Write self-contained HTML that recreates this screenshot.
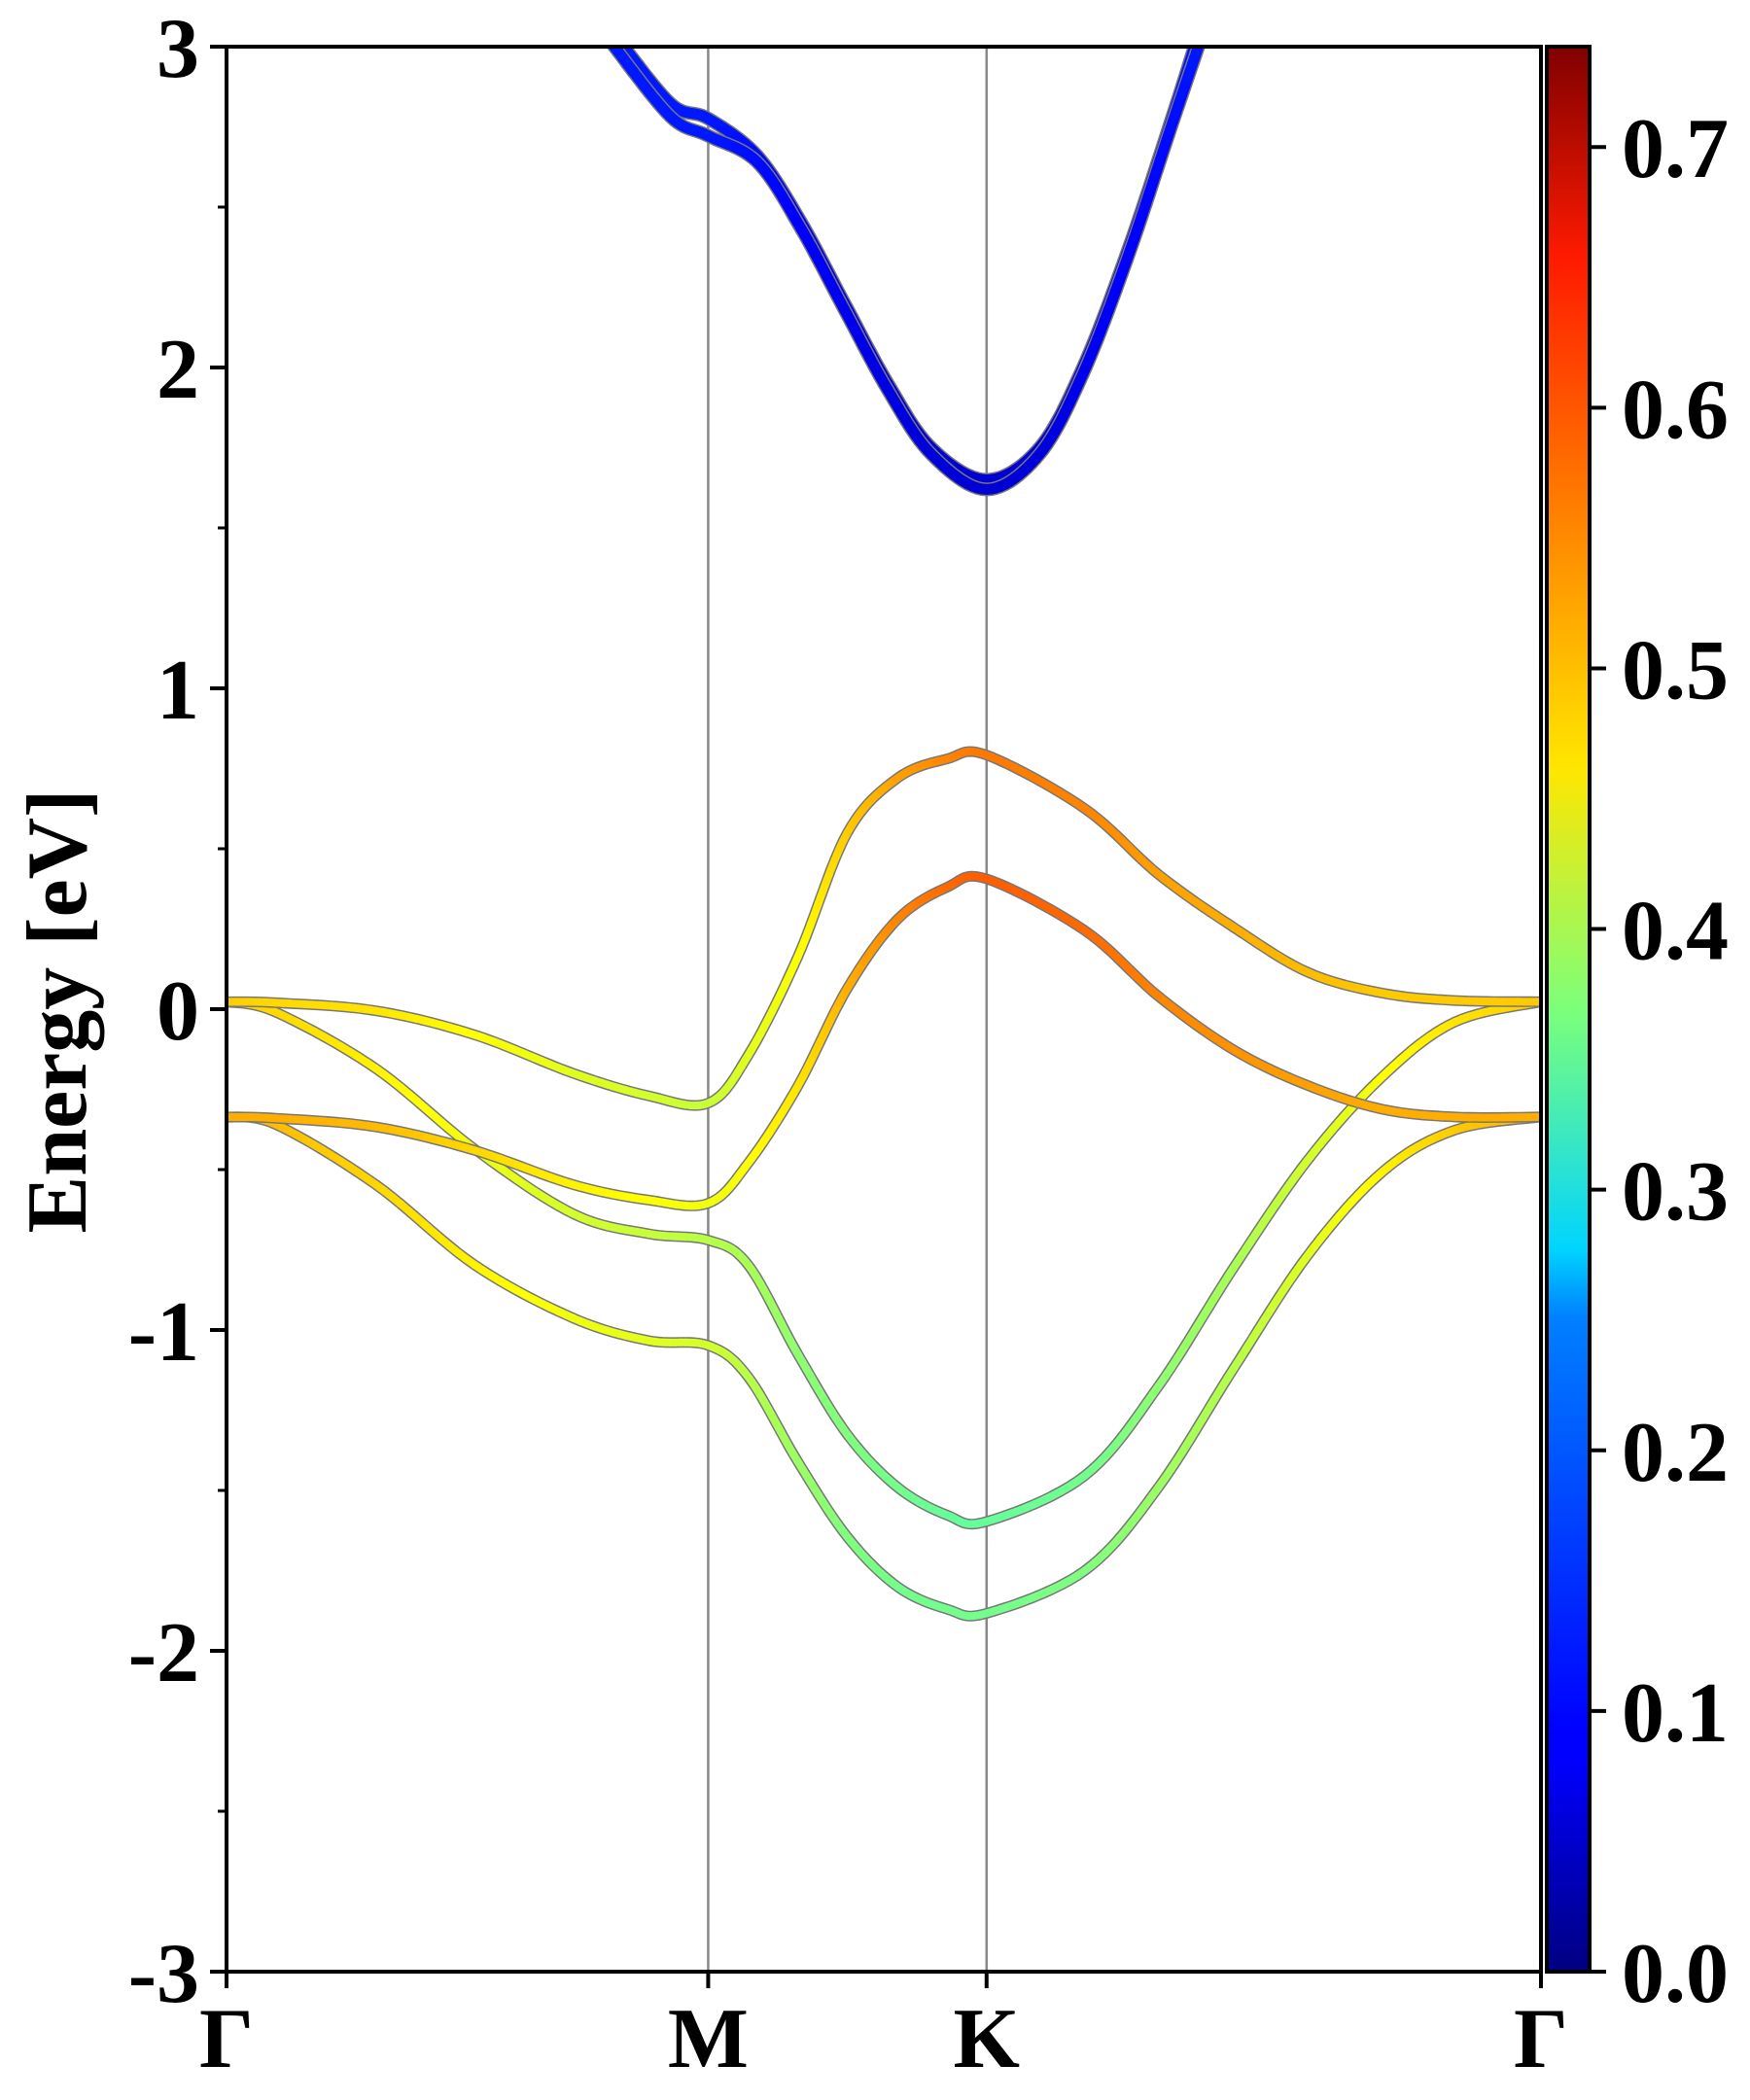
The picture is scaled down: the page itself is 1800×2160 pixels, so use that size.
<!DOCTYPE html>
<html><head><meta charset="utf-8">
<style>
html,body{margin:0;padding:0;background:#fff;}
svg{display:block;}
text{font-family:"Liberation Serif","DejaVu Serif",serif;font-weight:bold;fill:#000;}
</style></head>
<body>
<svg id="chart" width="1800" height="2160" viewBox="0 0 1800 2160" xmlns="http://www.w3.org/2000/svg">
<defs>
<clipPath id="plotclip"><rect x="233" y="48" width="1352" height="1980"/></clipPath>
<linearGradient id="jetgrad" x1="0" y1="1" x2="0" y2="0">
<stop offset="0" stop-color="#000080"/><stop offset="0.11" stop-color="#0000ff"/><stop offset="0.125" stop-color="#0000ff"/>
<stop offset="0.34" stop-color="#0080ff"/><stop offset="0.375" stop-color="#00d4ff"/><stop offset="0.5" stop-color="#7dff7a"/>
<stop offset="0.625" stop-color="#ffe600"/><stop offset="0.66" stop-color="#ffcc00"/><stop offset="0.89" stop-color="#ff1a00"/><stop offset="1" stop-color="#800000"/>
</linearGradient>
</defs>
<g id="plot"></g>
<g id="axes"></g>
</svg>
<script>
// ---- data ----
const kLabels = ["Γ","M","K","Γ"];
const kTicks = [0, 1, 1.578, 2.729];
const kValence = [0,0.103,0.31,0.515,0.72,0.876,1,1.083,1.186,1.289,1.393,1.496,1.578,1.782,1.935,2.091,2.245,2.40,2.55,2.729];
const bandA = [0.023,0.02,-0.005,-0.08,-0.20,-0.27,-0.293,-0.144,0.163,0.55,0.72,0.78,0.792,0.625,0.42,0.255,0.115,0.05,0.027,0.023];
const bandB = [0.023,-0.01,-0.185,-0.436,-0.638,-0.70,-0.72,-0.797,-1.075,-1.326,-1.49,-1.577,-1.597,-1.454,-1.175,-0.806,-0.47,-0.21,-0.04,0.023];
const bandC = [-0.336,-0.34,-0.367,-0.44,-0.547,-0.595,-0.605,-0.48,-0.24,0.065,0.28,0.38,0.406,0.245,0.04,-0.127,-0.238,-0.312,-0.336,-0.336];
const bandD = [-0.336,-0.36,-0.547,-0.797,-0.963,-1.033,-1.048,-1.146,-1.41,-1.645,-1.80,-1.87,-1.883,-1.75,-1.49,-1.12,-0.767,-0.507,-0.377,-0.336];
const weightA = [0.50,0.49,0.48,0.46,0.44,0.43,0.42,0.44,0.46,0.50,0.53,0.55,0.56,0.55,0.53,0.52,0.51,0.50,0.50,0.50];
const weightB = [0.50,0.49,0.47,0.45,0.43,0.42,0.41,0.40,0.38,0.37,0.36,0.35,0.35,0.36,0.38,0.40,0.43,0.46,0.48,0.50];
const weightC = [0.52,0.52,0.51,0.49,0.47,0.46,0.45,0.46,0.48,0.52,0.55,0.57,0.58,0.57,0.55,0.54,0.53,0.52,0.52,0.52];
const weightD = [0.52,0.51,0.49,0.47,0.45,0.44,0.43,0.41,0.39,0.37,0.36,0.36,0.36,0.37,0.39,0.41,0.44,0.47,0.50,0.52];
const kCond = [0.80,0.921,1.0,1.102,1.192,1.283,1.373,1.463,1.578,1.688,1.778,1.869,1.959,2.02];
const cond1 = [3.05,2.824,2.776,2.66,2.455,2.2,1.95,1.75,1.65,1.75,2.0,2.355,2.76,3.05];
const cond2 = [3.01,2.783,2.722,2.64,2.435,2.18,1.93,1.73,1.62,1.73,1.98,2.335,2.74,3.01];
const weightCond1 = [0.11,0.11,0.11,0.10,0.09,0.08,0.07,0.065,0.06,0.065,0.08,0.09,0.10,0.11];
const weightCond2 = [0.11,0.11,0.11,0.10,0.09,0.08,0.07,0.065,0.06,0.065,0.08,0.09,0.10,0.11];
const yTicks = [3,2,1,0,-1,-2,-3];
const yMinor = [2.5,1.5,0.5,-0.5,-1.5,-2.5];
const cbTicks = [0.0,0.1,0.2,0.3,0.4,0.5,0.6,0.7];
const cbMax = 0.7385;

// ---- axes functions ----
const X0=233, X1=1585, Y0=48, Y1=2028;
const xs = k => X0 + (k/kTicks[3])*(X1-X0);
const ys = e => Y0 + (3-e)/6*(Y1-Y0);
const cbY = v => Y1 - v/cbMax*(Y1-Y0);
const NS="http://www.w3.org/2000/svg";
function mk(tag, attrs, parent){const el=document.createElementNS(NS,tag);for(const a in attrs)el.setAttribute(a,attrs[a]);parent.appendChild(el);return el;}
function jet(t){t=Math.max(0,Math.min(1,t));
 const r=Math.max(0,Math.min(1,1.5-Math.abs(4*t-3))),g=Math.max(0,Math.min(1,1.5-Math.abs(4*t-2))),b=Math.max(0,Math.min(1,1.5-Math.abs(4*t-1)));
 return `rgb(${Math.round(r*255)},${Math.round(g*255)},${Math.round(b*255)})`;}
function spline(ks, es, ws){
 const out=[];const n=ks.length;
 for(let i=0;i<n-1;i++){
  const p0=i>0?i-1:i,p3=i+2<n?i+2:i+1;
  for(let s=0;s<12;s++){const t=s/12;
   const cr=(a,b,c,d)=>0.5*((2*b)+(-a+c)*t+(2*a-5*b+4*c-d)*t*t+(-a+3*b-3*c+d)*t*t*t);
   out.push([cr(ks[p0],ks[i],ks[i+1],ks[p3]),cr(es[p0],es[i],es[i+1],es[p3]),ws[i]+(ws[i+1]-ws[i])*t]);}
 }
 out.push([ks[n-1],es[n-1],ws[n-1]]);return out;}
const plot=document.getElementById('plot');
const axes=document.getElementById('axes');
const clipG=mk('g',{'clip-path':'url(#plotclip)'},plot);
[kTicks[1],kTicks[2]].forEach((k,i)=>{
 const l=mk('line',{x1:xs(k),x2:xs(k),y1:Y0,y2:Y1,stroke:'#888',"stroke-width":2.5},clipG);
 
 
});
function drawBand(name, ks, es, ws, w){
 const g=mk('g',{},clipG);
 
 
 const pts=spline(ks,es,ws);
 const d=pts.map((p,i)=>(i?'L':'M')+xs(p[0]).toFixed(1)+' '+ys(p[1]).toFixed(1)).join(' ');
 mk('path',{d:d,fill:'none',stroke:'#777',"stroke-width":w+3,"stroke-linejoin":'round'},g);
 for(let i=0;i<pts.length-1;i++){
  mk('line',{x1:xs(pts[i][0]),y1:ys(pts[i][1]),x2:xs(pts[i+1][0]),y2:ys(pts[i+1][1]),stroke:jet(pts[i][2]/cbMax),"stroke-width":w,"stroke-linecap":'round'},g);
 }
}
drawBand('conduction-band-1',kCond,cond1,weightCond1,11);
drawBand('conduction-band-2',kCond,cond2,weightCond2,11);
drawBand('valence-band-d',kValence,bandD,weightD,8);
drawBand('valence-band-b',kValence,bandB,weightB,8);
drawBand('valence-band-c',kValence,bandC,weightC,8);
drawBand('valence-band-a',kValence,bandA,weightA,8);
const fr=mk('rect',{x:X0,y:Y0,width:X1-X0,height:Y1-Y0,fill:'none',stroke:'#000',"stroke-width":4},axes);


yTicks.forEach(v=>{
 mk('line',{x1:X0-17,x2:X0,y1:ys(v),y2:ys(v),stroke:'#000',"stroke-width":4},axes);
 const t=mk('text',{x:X0-28,y:ys(v)+31,"text-anchor":'end',"font-size":88},axes);
 t.textContent=String(v);
 
 
});
yMinor.forEach(v=>{mk('line',{x1:X0-9,x2:X0,y1:ys(v),y2:ys(v),stroke:'#000',"stroke-width":3},axes);});
kTicks.forEach((k,i)=>{
 mk('line',{x1:xs(k),x2:xs(k),y1:Y1,y2:Y1+17,stroke:'#000',"stroke-width":4},axes);
 const t=mk('text',{x:xs(k),y:2126,"text-anchor":'middle',"font-size":88},axes);
 t.textContent=kLabels[i];
 
 
});
const yl=mk('text',{x:0,y:0,"text-anchor":'middle',"font-size":88,transform:'translate(88,1040) rotate(-90)'},axes);
yl.textContent='Energy [eV]';


const cb=mk('rect',{x:1591,y:Y0,width:44,height:Y1-Y0,fill:'url(#jetgrad)',stroke:'#000',"stroke-width":4},axes);


cbTicks.forEach(v=>{
 mk('line',{x1:1635,x2:1652,y1:cbY(v),y2:cbY(v),stroke:'#000',"stroke-width":4},axes);
 const t=mk('text',{x:1668,y:cbY(v)+31,"font-size":88},axes);
 t.textContent=v.toFixed(1);
 
 
});
</script>
</body></html>
